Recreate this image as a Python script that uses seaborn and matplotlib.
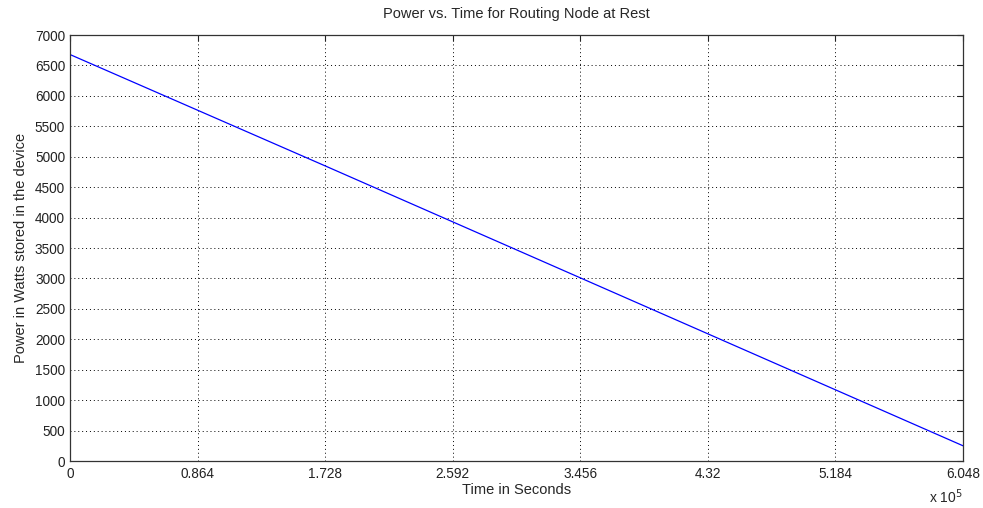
import matplotlib
matplotlib.use('Agg')
import matplotlib.pyplot as plt
import seaborn as sns
import pandas as pd

# values
time_s = [0, 172800, 345600, 518400, 604800]
power_w = [6680, 4850, 3010, 1170, 250]
xtick_vals = [0, 86400, 172800, 259200, 345600, 432000, 518400, 604800]
xtick_labels = ['0', '0.864', '1.728', '2.592', '3.456', '4.32', '5.184', '6.048']
ytick_vals = list(range(0, 7001, 500))

sns.set_style('white')
plt.rcParams['font.family'] = ['Liberation Sans', 'DejaVu Sans']

df = pd.DataFrame({'Time': time_s, 'Power': power_w})

fig = plt.figure(figsize=(9.83, 5.08), dpi=100)
ax = fig.add_axes([0.0712, 0.0925, 0.9085, 0.8385])
sns.lineplot(data=df, x='Time', y='Power', color='#0000ff', linewidth=0.9, ax=ax)

ax.set_xlim(0, 604800)
ax.set_ylim(0, 7000)
ax.set_xticks(xtick_vals)
ax.set_xticklabels(xtick_labels)
ax.set_yticks(ytick_vals)
ax.tick_params(direction='in', length=4, top=True, right=True, labelsize=9.8, colors='#222222')
ax.tick_params(axis='x', pad=4)
ax.grid(True, linestyle=(0, (1, 3)), color='black', linewidth=0.7)
for s in ax.spines.values():
    s.set_color('#333333')
    s.set_linewidth(0.9)
    s.set_visible(True)

ax.set_title('Power vs. Time for Routing Node at Rest', fontsize=10.5, pad=12)
ax.set_xlabel('Time in Seconds', fontsize=10.5, labelpad=2)
ax.set_ylabel('Power in Watts stored in the device', fontsize=10.5, labelpad=5)
ax.text(1.0, -0.062, 'x 10$^5$', transform=ax.transAxes, fontsize=10, ha='right', va='top')

fig.savefig('out.png', dpi=100)
